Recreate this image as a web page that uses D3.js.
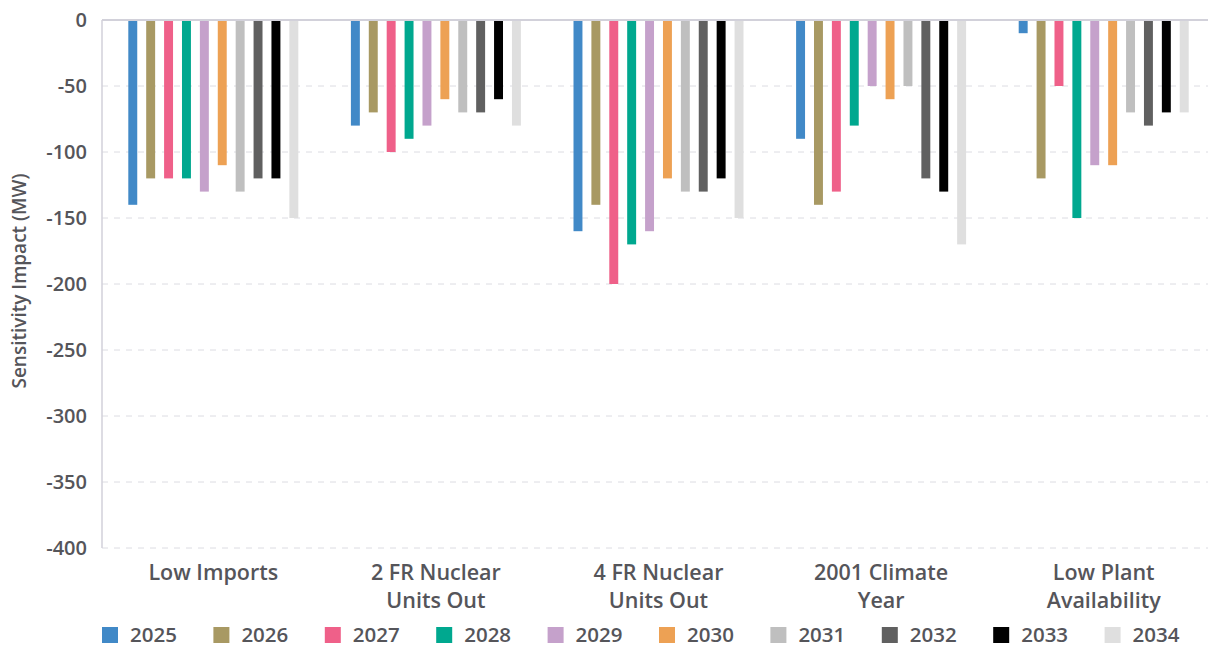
<!DOCTYPE html>
<html>
<head>
<meta charset="utf-8">
<script src="https://cdn.jsdelivr.net/npm/d3@7"></script>
<style>
  html, body { margin: 0; padding: 0; background: #fff; }
  svg { display: block; font-family: "Open Sans", "Noto Sans", sans-serif; }
</style>
</head>
<body>
<svg id="chart" width="1208" height="648"></svg>
<script>
// Scenario categories (label lines) and study years
const categories = [
  ["Low Imports"],
  ["2 FR Nuclear", "Units Out"],
  ["4 FR Nuclear", "Units Out"],
  ["2001 Climate", "Year"],
  ["Low Plant", "Availability"]
];
const years = ["2025", "2026", "2027", "2028", "2029", "2030", "2031", "2032", "2033", "2034"];

// Sensitivity impact (MW) per year, one value per category
const v2025 = [-140, -80, -160, -90, -10];
const v2026 = [-120, -70, -140, -140, -120];
const v2027 = [-120, -100, -200, -130, -50];
const v2028 = [-120, -90, -170, -80, -150];
const v2029 = [-130, -80, -160, -50, -110];
const v2030 = [-110, -60, -120, -60, -110];
const v2031 = [-130, -70, -130, -50, -70];
const v2032 = [-120, -70, -130, -120, -80];
const v2033 = [-120, -60, -120, -130, -70];
const v2034 = [-150, -80, -150, -170, -70];

const yTicks = [0, -50, -100, -150, -200, -250, -300, -350, -400];

const seriesValues = [v2025, v2026, v2027, v2028, v2029, v2030, v2031, v2032, v2033, v2034];
const colors = ["#4189C7", "#A89963", "#EF6089", "#00A88F", "#C5A1CB",
                "#EDA154", "#BFBFBF", "#606060", "#000000", "#DFDFDF"];

const svg = d3.select("#chart");
const margin = { left: 102, top: 20 };
const width = 1215 - margin.left;
const height = 548 - margin.top;

const g = svg.append("g").attr("transform", `translate(${margin.left},${margin.top})`);

const clusterWidth = 170;
const x0 = d3.scaleBand().domain(d3.range(categories.length)).range([0, width]).padding(0);
const x1 = d3.scaleBand().domain(years).range([0, clusterWidth]).paddingInner(0.5);
const y = d3.scaleLinear().domain([-400, 0]).range([height, 0]);

const textColor = "#55555A";
const fontW = "600";

// dashed gridlines
g.append("g")
  .selectAll("line")
  .data(yTicks.filter(t => t !== 0))
  .join("line")
  .attr("x1", 0).attr("x2", width + 10)
  .attr("y1", d => y(d)).attr("y2", d => y(d))
  .attr("stroke", "#DCDCE2")
  .attr("stroke-width", 1)
  .attr("stroke-dasharray", "6,6");

// y axis tick labels
const yAxis = d3.axisLeft(y).tickValues(yTicks).tickSize(0).tickPadding(15).tickFormat(d => String(d));
const yg = g.append("g").call(yAxis)
  .attr("font-family", null)
  .attr("font-size", null);
yg.select(".domain").remove();
yg.selectAll("text")
  .attr("fill", textColor)
  .style("font-size", "20px")
  .style("font-weight", fontW);

// bars
const groupOffset = (x0.bandwidth() - clusterWidth) / 2;
const groups = g.append("g").selectAll("g")
  .data(categories.map((c, i) => i))
  .join("g")
  .attr("transform", i => `translate(${x0(i) + groupOffset},0)`);

groups.selectAll("rect")
  .data(i => years.map((yr, k) => ({ yr, k, v: seriesValues[k][i] })))
  .join("rect")
  .attr("x", d => x1(d.yr))
  .attr("width", x1.bandwidth())
  .attr("y", y(0))
  .attr("height", d => y(d.v) - y(0))
  .attr("fill", d => colors[d.k]);

// zero baseline and vertical axis line
g.append("line")
  .attr("x1", 0).attr("x2", width + 10)
  .attr("y1", y(0)).attr("y2", y(0))
  .attr("stroke", "#D2D1DA").attr("stroke-width", 2);
g.append("line")
  .attr("x1", 0).attr("x2", 0)
  .attr("y1", y(0)).attr("y2", y(-400))
  .attr("stroke", "#D2D1DA").attr("stroke-width", 1.5);

// category labels
const catLabels = g.append("g").selectAll("text")
  .data(categories)
  .join("text")
  .attr("x", (c, i) => x0(i) + x0.bandwidth() / 2)
  .attr("y", height + 32)
  .attr("text-anchor", "middle")
  .attr("fill", textColor)
  .style("font-size", "21.5px")
  .style("font-weight", fontW);
catLabels.selectAll("tspan")
  .data(c => c)
  .join("tspan")
  .attr("x", function () { return d3.select(this.parentNode).attr("x"); })
  .attr("dy", (d, j) => j === 0 ? 0 : 28)
  .text(d => d);

// axis title
svg.append("text")
  .attr("transform", "translate(26,281) rotate(-90)")
  .attr("text-anchor", "middle")
  .attr("fill", textColor)
  .style("font-size", "19px")
  .style("font-weight", "600")
  .text("Sensitivity Impact (MW)");

// legend
const legend = svg.append("g").attr("transform", "translate(102,627)");
const item = legend.selectAll("g")
  .data(years)
  .join("g")
  .attr("transform", (d, i) => `translate(${i * 111.4},0)`);
item.append("rect")
  .attr("width", 16).attr("height", 16)
  .attr("fill", (d, i) => colors[i]);
item.append("text")
  .attr("x", 28).attr("y", 15)
  .attr("fill", textColor)
  .style("font-size", "20.5px")
  .style("font-weight", fontW)
  .text(d => d);
</script>
</body>
</html>
